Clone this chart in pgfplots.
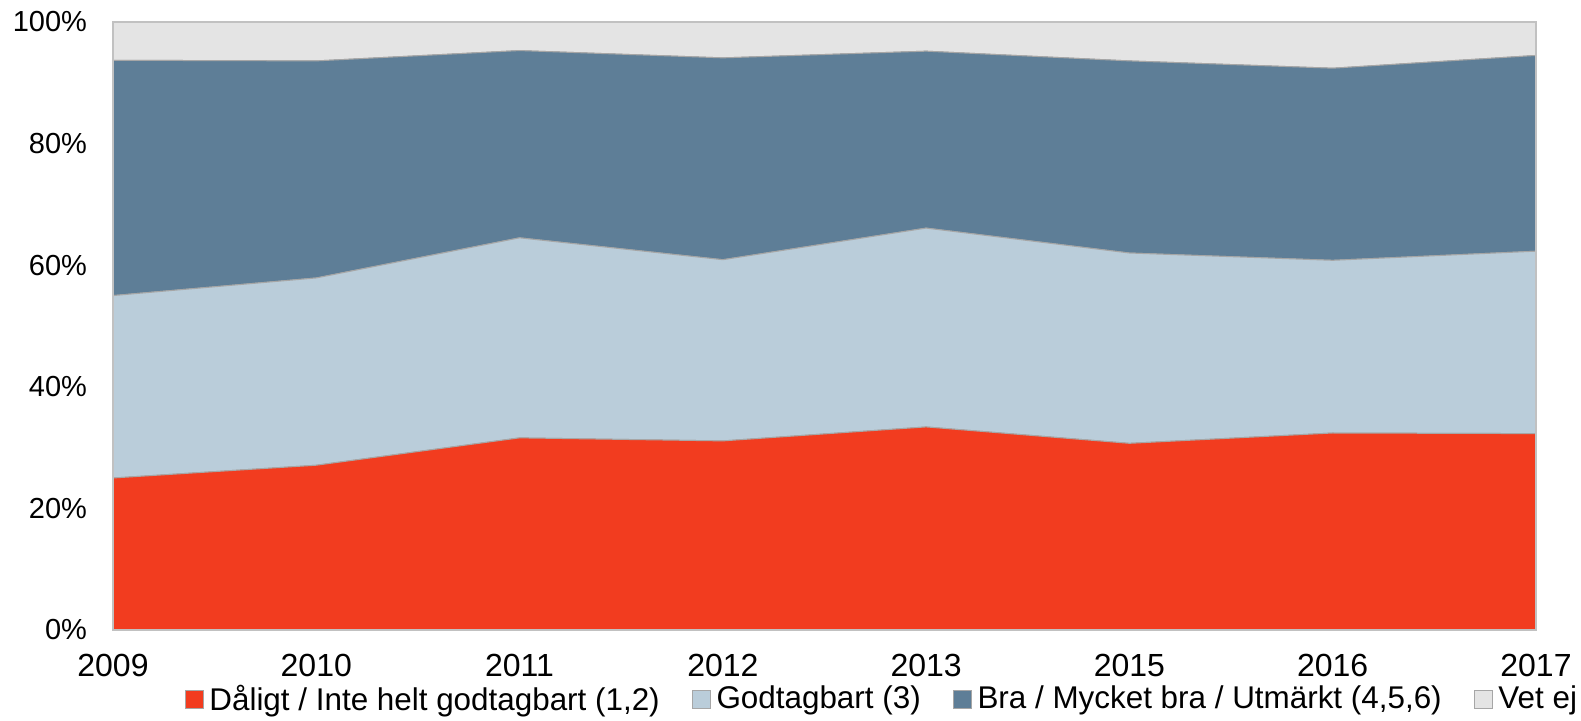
\documentclass[border=0pt]{standalone}
\usepackage{fontspec}
\setmainfont{Liberation Sans}
\usepackage{pgfplots}
\pgfplotsset{compat=1.18}

\definecolor{cRed}{HTML}{F23C1F}
\definecolor{cLight}{HTML}{BACDDA}
\definecolor{cDark}{HTML}{5E7E97}
\definecolor{cGray}{HTML}{E4E4E4}
\definecolor{cEdge}{HTML}{A6A6A6}

\begin{document}
\begin{tikzpicture}
\useasboundingbox (-56.5pt,-45.5pt) rectangle (734pt,315pt);
\begin{axis}[
  scale only axis, width=711.5pt, height=304pt,
  xmin=0, xmax=7, ymin=0, ymax=100,
  stack plots=y, area style,
  xtick={0,...,7},
  xticklabels={2009,2010,2011,2012,2013,2015,2016,2017},
  ytick={0,20,40,60,80,100},
  yticklabels={0\%,20\%,40\%,60\%,80\%,100\%},
  major tick length=0pt,
  axis line style={cEdge!70, line width=0.6pt},
  axis on top,
  xticklabel style={font=\fontsize{16}{18}\selectfont, yshift=-8.5pt},
  yticklabel style={font=\fontsize{14.5}{17}\selectfont, xshift=-9.5pt},
  legend style={at={(0.541,-0.1135)}, anchor=center, draw=none, fill=none,
    font=\fontsize{15.7}{18}\selectfont, legend columns=4,
    /tikz/every even column/.append style={column sep=14pt},
    /tikz/every odd column/.append style={column sep=1pt},
    inner sep=0pt},
  legend image code/.code={\draw[#1, draw=cEdge, line width=0.4pt] (0pt,-4.5pt) rectangle (9pt,4.5pt);},
  legend cell align=left,
]
\addplot[fill=cRed, draw=cEdge, line width=0.5pt] coordinates
  {(0,25.0) (1,27.1) (2,31.6) (3,31.1) (4,33.4) (5,30.7) (6,32.4) (7,32.3)} \closedcycle;
\addplot[fill=cLight, draw=cEdge, line width=0.5pt] coordinates
  {(0,30.0) (1,30.8) (2,32.9) (3,29.8) (4,32.7) (5,31.3) (6,28.4) (7,30.0)} \closedcycle;
\addplot[fill=cDark, draw=cEdge, line width=0.5pt] coordinates
  {(0,38.7) (1,35.7) (2,30.8) (3,33.2) (4,29.1) (5,31.6) (6,31.6) (7,32.2)} \closedcycle;
\addplot[fill=cGray, draw=cEdge, line width=0.5pt] coordinates
  {(0,6.3) (1,6.4) (2,4.7) (3,5.9) (4,4.8) (5,6.4) (6,7.6) (7,5.5)} \closedcycle;
\legend{{Dåligt / Inte helt godtagbart (1,2)}, {Godtagbart (3)}, {Bra / Mycket bra / Utmärkt (4,5,6)}, {Vet ej}}
\end{axis}
\end{tikzpicture}
\end{document}
